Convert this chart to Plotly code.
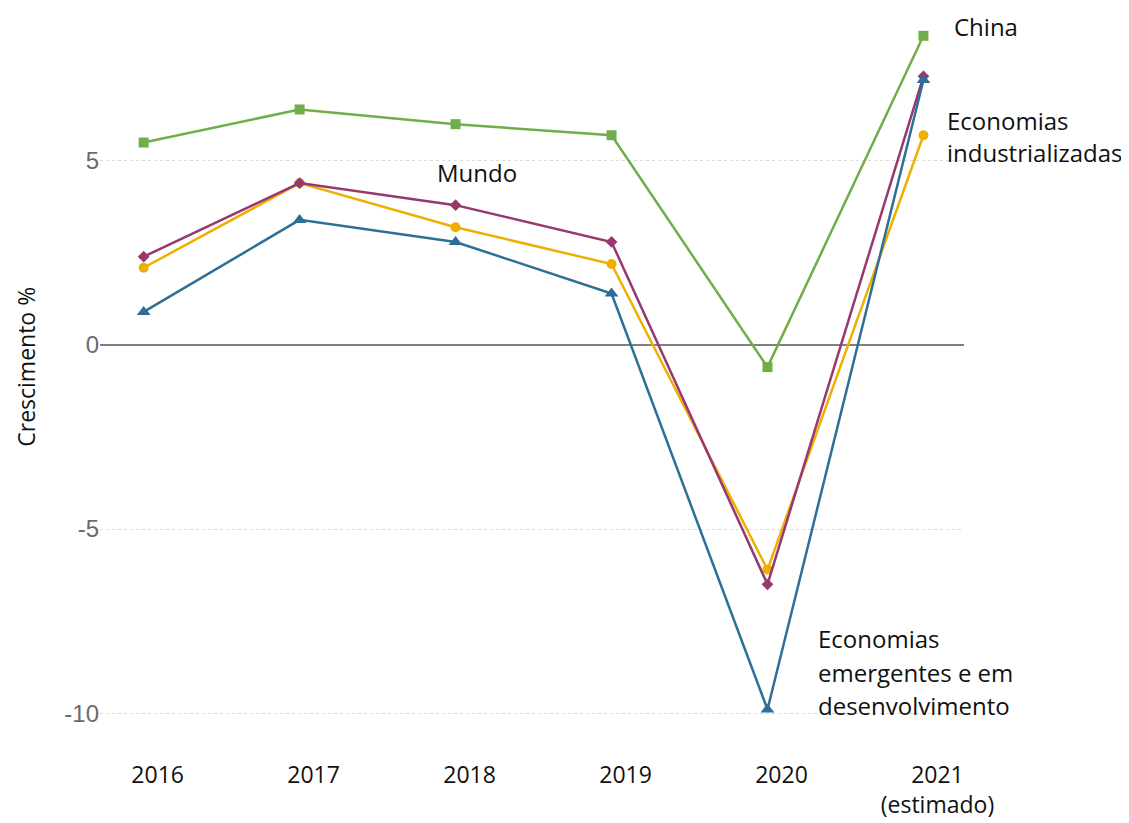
import plotly.graph_objects as go

years = ["2016", "2017", "2018", "2019", "2020", "2021<br>(estimado)"]
china = [5.5, 6.4, 6.0, 5.7, -0.6, 8.4]
mundo = [2.4, 4.4, 3.8, 2.8, -6.5, 7.3]
industrializadas = [2.1, 4.4, 3.2, 2.2, -6.1, 5.7]
emergentes = [0.9, 3.4, 2.8, 1.4, -9.9, 7.2]
ytick_vals = [-10, -5, 0, 5]
ytick_text = ["-10", "-5", "0", "5"]

xs = list(range(len(years)))

fig = go.Figure()
series = [
    ("China", china, "#6FAE4A", "square", 10),
    ("Economias industrializadas", industrializadas, "#EEB000", "circle", 10),
    ("Mundo", mundo, "#97386F", "diamond", 9),
    ("Economias emergentes e em desenvolvimento", emergentes, "#2D6F96", "triangle-up", 12),
]
for name, vals, color, sym, sz in series:
    fig.add_trace(go.Scatter(
        x=xs, y=vals, mode="lines+markers", name=name,
        line=dict(color=color, width=2.5),
        marker=dict(symbol=sym, size=sz, color=color),
        cliponaxis=False,
    ))

font_txt = "Open Sans"
ann = []
def label(x, y, text, xanchor="left"):
    ann.append(dict(x=x, y=y, xref="x", yref="y", text=text, showarrow=False,
                    xanchor=xanchor, yanchor="middle",
                    font=dict(family=font_txt, size=24, color="#111")))

label(5.186, 8.64, "China")
label(5.14, 6.11, "Economias")
label(5.14, 5.22, "industrializadas")
label(2.14, 4.70, "Mundo", xanchor="center")
label(4.31, -7.96, "Economias")
label(4.31, -8.89, "emergentes e em")
label(4.31, -9.78, "desenvolvimento")

# y-axis title
ann.append(dict(x=-0.086, y=0.518, xref="paper", yref="paper", text="Crescimento %",
                showarrow=False, textangle=-90, xanchor="center", yanchor="middle",
                font=dict(family=font_txt, size=23, color="#111")))

fig.update_layout(
    width=1129, height=823,
    margin=dict(l=92, r=173, t=12, b=91),
    plot_bgcolor="white", paper_bgcolor="white",
    showlegend=False,
    annotations=ann,
    xaxis=dict(
        range=[-0.28, 5.26], tickvals=xs, ticktext=years,
        showgrid=False, zeroline=False, showline=False, ticks="",
        automargin=False, ticklabelshift=14, ticklabelstandoff=19,
        tickfont=dict(family=font_txt, size=23, color="#111"),
    ),
    yaxis=dict(
        range=[-10.73, 8.83], tickvals=ytick_vals, ticktext=ytick_text,
        showgrid=True, gridcolor="#d9d9d9", griddash="dot", gridwidth=1,
        zeroline=True, zerolinecolor="#808080", zerolinewidth=1.5,
        showline=False, ticks="", automargin=False,
        tickfont=dict(family="Liberation Sans", size=24, color="#6b6b6b"),
    ),
)

fig.write_html("out.html")
